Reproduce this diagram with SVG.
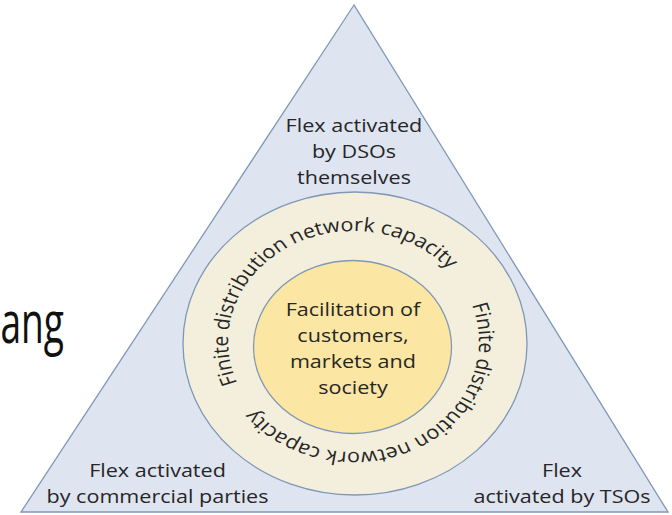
<svg xmlns="http://www.w3.org/2000/svg" xmlns:xlink="http://www.w3.org/1999/xlink" width="672" height="515" viewBox="0 0 672 515">
  <style>
    .lbl { font-family: "Open Sans", "Noto Sans", "Liberation Sans", sans-serif; font-size: 19px; fill: #262626; text-anchor: middle; }
    .ring { font-family: "Open Sans", "Noto Sans", "Liberation Sans", sans-serif; font-size: 19px; fill: #262626; }
    .edge { stroke: #7f98b6; stroke-width: 1.3; }
  </style>
  <defs>
    <!-- clockwise circle for the ring caption, starting in the lower-left gap between the two captions -->
    <path id="ringPath" d="M 258,396.75 A 110.5 110.5 0 1 1 449.4,286.25 A 110.5 110.5 0 1 1 258,396.75"/>
  </defs>

  <rect x="0" y="0" width="672" height="515" fill="#ffffff"/>

  <!-- partial heading at the left margin -->
  <text transform="scale(0.64,1)" x="100" y="343" font-family="Open Sans, Liberation Sans, sans-serif" font-size="58" fill="#111111" text-anchor="end">ang</text>

  <g id="triangle">
    <polygon class="edge" points="354,5 21,512 668,512" fill="#dfe4f1"/>
  </g>

  <g id="outer-ring">
    <ellipse class="edge" cx="355" cy="343.5" rx="172" ry="151.5" fill="#f3efdc"/>
  </g>

  <g id="core">
    <ellipse class="edge" cx="352.5" cy="347" rx="99" ry="86.5" fill="#fce6a4"/>
  </g>

  <!-- labels, set slightly wide -->
  <g transform="translate(355,0) scale(1.135,1) translate(-355,0)">
    <g id="dso-label">
      <text class="lbl" x="354.1" y="132">Flex activated</text>
      <text class="lbl" x="354.1" y="158">by DSOs</text>
      <text class="lbl" x="354.1" y="184">themselves</text>
    </g>
    <g id="commercial-label">
      <text class="lbl" x="181" y="477">Flex activated</text>
      <text class="lbl" x="181" y="503">by commercial parties</text>
    </g>
    <g id="tso-label">
      <text class="lbl" x="537.4" y="477">Flex</text>
      <text class="lbl" x="537.4" y="503">activated by TSOs</text>
    </g>
    <g id="core-label">
      <text class="lbl" x="353.2" y="316">Facilitation of</text>
      <text class="lbl" x="353.2" y="342">customers,</text>
      <text class="lbl" x="353.2" y="368">markets and</text>
      <text class="lbl" x="353.2" y="394">society</text>
    </g>
    <g id="ring-label">
      <text class="ring" text-anchor="middle"><textPath xlink:href="#ringPath" startOffset="24.6%">Finite distribution network capacity</textPath></text>
      <text class="ring" text-anchor="middle"><textPath xlink:href="#ringPath" startOffset="75.4%">Finite distribution network capacity</textPath></text>
    </g>
  </g>
</svg>
